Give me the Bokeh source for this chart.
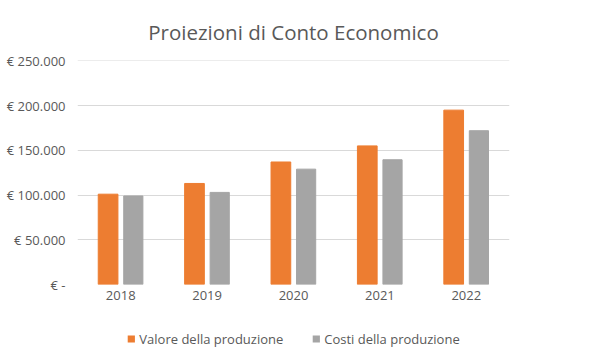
from bokeh.plotting import figure
from bokeh.layouts import column
from bokeh.models import ColumnDataSource, FactorRange, FixedTicker, Legend, LegendItem
from bokeh.transform import dodge
from bokeh.embed import file_html
from bokeh.resources import INLINE

years = ["2018", "2019", "2020", "2021", "2022"]
valore = [101000, 113000, 137000, 155000, 195000]
costi = [99000, 103000, 129000, 139500, 172000]
y_ticks = [0, 50000, 100000, 150000, 200000, 250000]
y_labels = ["€ -", "€ 50.000", "€ 100.000", "€ 150.000", "€ 200.000", "€ 250.000"]
series_names = ["Valore della produzione", "Costi della produzione"]
series_fields = ["valore", "costi"]
series_colors = ["#ED7D31", "#A5A5A5"]

src = ColumnDataSource(dict(years=years, valore=valore, costi=costi))

FONT = "Open Sans"
TXT = "#595959"

xr = FactorRange(*years, range_padding=0)
p = figure(x_range=xr, y_range=(0, 250500),
           width=600, height=320, output_backend="svg", toolbar_location=None,
           min_border_left=77, min_border_right=91, min_border_top=60, min_border_bottom=36)

offsets = [-0.146, 0.146]
widths = [0.228, 0.222]
for f, c, o, w in zip(series_fields, series_colors, offsets, widths):
    p.vbar(x=dodge("years", o, range=xr), top=f, width=w, source=src, color=c)

p.title.text = "Proiezioni di Conto Economico"
p.title.align = "center"
p.title.text_font = FONT
p.title.text_font_size = "20.5px"
p.title.text_font_style = "normal"
p.title.text_color = TXT
p.title.offset = 5
p.title.standoff = 30

p.outline_line_color = None
p.xgrid.grid_line_color = None
p.ygrid.grid_line_color = "#D9D9D9"
p.ygrid.grid_line_width = 1

p.yaxis.ticker = FixedTicker(ticks=y_ticks)
p.yaxis.major_label_overrides = {t: l for t, l in zip(y_ticks, y_labels)}
for ax in (p.xaxis[0], p.yaxis[0]):
    ax.axis_line_color = None
    ax.major_tick_line_color = None
    ax.minor_tick_line_color = None
    ax.major_tick_out = 0
    ax.major_tick_in = 0
    ax.axis_label_standoff = 0
    ax.major_label_text_font = FONT
    ax.major_label_text_font_size = "13px"
    ax.major_label_text_color = TXT
p.yaxis.major_label_standoff = 12
p.xaxis.major_label_standoff = 6

# legend strip below the chart (its bars lie entirely outside its visible range)
lg = figure(width=600, height=37, output_backend="svg", toolbar_location=None,
            x_range=xr, y_range=(1e7, 1e7 + 1), x_axis_type=None, y_axis_type=None,
            min_border=0, outline_line_color=None)
lg.xgrid.grid_line_color = None
lg.ygrid.grid_line_color = None
items = []
for name, f, c in zip(series_names, series_fields, series_colors):
    r = lg.vbar(x="years", top=f, width=0.2, source=src, fill_color=c, line_color=None)
    items.append(LegendItem(label=name, renderers=[r]))
legend = Legend(items=items, orientation="horizontal", location="center",
                label_text_font=FONT, label_text_font_size="13px", label_text_color=TXT,
                glyph_width=9, glyph_height=9, spacing=28, border_line_color=None,
                background_fill_alpha=0, margin=0, padding=2, label_standoff=4)
lg.add_layout(legend, "center")

layout = column(p, lg, spacing=0)
open("out.html", "w").write(file_html(layout, INLINE))
